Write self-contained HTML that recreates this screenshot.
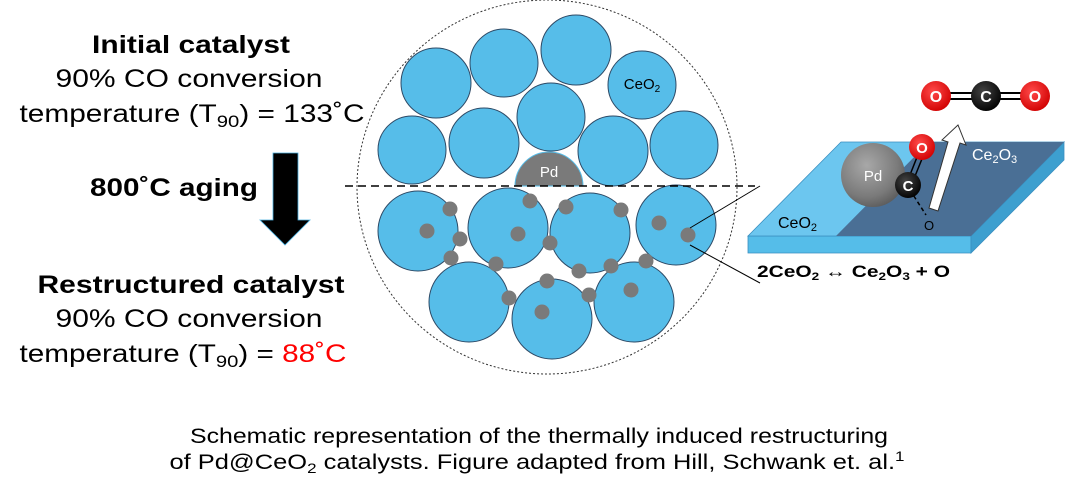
<!DOCTYPE html>
<html><head><meta charset="utf-8"><style>
html,body{margin:0;padding:0;background:#fff;}
svg{display:block;font-family:"Liberation Sans",Arial,sans-serif;}
</style></head><body>
<svg width="1072" height="492" viewBox="0 0 1072 492" xmlns="http://www.w3.org/2000/svg">
<defs>
<radialGradient id="pd" cx="0.4" cy="0.35" r="0.7"><stop offset="0" stop-color="#a8a8a8"/><stop offset="0.7" stop-color="#7a7a7a"/><stop offset="1" stop-color="#5a5a5a"/></radialGradient>
<radialGradient id="red" cx="0.4" cy="0.35" r="0.7"><stop offset="0" stop-color="#ff4a4a"/><stop offset="1" stop-color="#d00000"/></radialGradient>
<radialGradient id="blk" cx="0.4" cy="0.35" r="0.7"><stop offset="0" stop-color="#444"/><stop offset="1" stop-color="#000"/></radialGradient>
</defs>
<g text-anchor="middle" font-size="25">
<text x="191" y="53" font-weight="bold" textLength="198" lengthAdjust="spacingAndGlyphs">Initial catalyst</text>
<text x="189" y="87" textLength="267" lengthAdjust="spacingAndGlyphs">90% CO conversion</text>
<text x="192" y="122" textLength="345" lengthAdjust="spacingAndGlyphs">temperature (T<tspan font-size="17" dy="5">90</tspan><tspan dy="-5">) = 133˚C</tspan></text>
<text x="174" y="196" font-weight="bold" textLength="168" lengthAdjust="spacingAndGlyphs">800˚C aging</text>
<text x="191" y="293" font-weight="bold" textLength="307" lengthAdjust="spacingAndGlyphs">Restructured catalyst</text>
<text x="189" y="327" textLength="267" lengthAdjust="spacingAndGlyphs">90% CO conversion</text>
<text x="183" y="362" textLength="327" lengthAdjust="spacingAndGlyphs">temperature (T<tspan font-size="17" dy="5">90</tspan><tspan dy="-5">) = </tspan><tspan fill="#ff0000">88˚C</tspan></text>
</g>
<polygon points="273,153 298,153 298,220 310,220 285,245 260,220 273,220" fill="#000" stroke="#4ab0e0" stroke-width="0.8"/>
<ellipse cx="547" cy="187" rx="190" ry="187" fill="none" stroke="#333" stroke-width="1" stroke-dasharray="2,2"/>
<g fill="#56bde9" stroke="#2e4a66" stroke-width="1">
<circle cx="436" cy="83" r="35"/><circle cx="504" cy="63" r="34"/><circle cx="576" cy="50" r="35"/>
<circle cx="642" cy="85" r="34"/><circle cx="412" cy="150" r="34"/><circle cx="484" cy="143" r="35"/>
<circle cx="551" cy="117" r="34"/><circle cx="613" cy="151" r="35"/><circle cx="684" cy="145" r="34"/>
<circle cx="418" cy="231" r="40"/><circle cx="508" cy="228" r="40"/><circle cx="590" cy="233" r="40"/>
<circle cx="676" cy="225" r="40"/><circle cx="469" cy="302" r="40"/><circle cx="552" cy="319" r="40"/>
<circle cx="634" cy="302" r="40"/>
</g>
<path d="M515,186 A34,34 0 0 1 583,186 Z" fill="#7a7a7a" stroke="#56bde9" stroke-width="1"/>
<text x="549" y="177" font-size="15" fill="#fff" text-anchor="middle">Pd</text>
<text x="642" y="89" font-size="15" text-anchor="middle">CeO<tspan font-size="10" dy="3">2</tspan></text>
<g fill="#7a7a7a">
<circle cx="450" cy="209" r="7.5"/><circle cx="427" cy="231" r="7.5"/><circle cx="460" cy="239" r="7.5"/>
<circle cx="451" cy="258" r="7.5"/><circle cx="496" cy="264" r="7.5"/><circle cx="530" cy="201" r="7.5"/>
<circle cx="518" cy="234" r="7.5"/><circle cx="550" cy="243" r="7.5"/><circle cx="566" cy="207" r="7.5"/>
<circle cx="621" cy="210" r="7.5"/><circle cx="579" cy="271" r="7.5"/><circle cx="611" cy="266" r="7.5"/>
<circle cx="646" cy="261" r="7.5"/><circle cx="659" cy="223" r="7.5"/><circle cx="688" cy="235" r="7.5"/>
<circle cx="547" cy="281" r="7.5"/><circle cx="509" cy="298" r="7.5"/><circle cx="589" cy="295" r="7.5"/>
<circle cx="631" cy="290" r="7.5"/><circle cx="542" cy="312" r="7.5"/>
</g>
<line x1="345" y1="186" x2="755" y2="186" stroke="#000" stroke-width="1.5" stroke-dasharray="8,5"/>
<line x1="690" y1="228" x2="760" y2="186" stroke="#000" stroke-width="1"/>
<line x1="690" y1="245" x2="760" y2="283" stroke="#000" stroke-width="1"/>
<polygon points="748,236 971,236 971,253 748,253" fill="#55bde9" stroke="#3a8fc0" stroke-width="0.8"/>
<polygon points="971,236 1064,142 1064,160 971,253" fill="#3d9fcf" stroke="#3a8fc0" stroke-width="0.8"/>
<polygon points="748,236 841,142 1064,142 971,236" fill="#6cc6ef" stroke="#3a8fc0" stroke-width="0.8"/>
<polygon points="836,236 929,142 1064,142 971,236" fill="#4a6f95"/>
<text x="778" y="228" font-size="16">CeO<tspan font-size="11" dy="3">2</tspan></text>
<text x="972" y="160" font-size="16" fill="#fff">Ce<tspan font-size="11" dy="3">2</tspan><tspan dy="-3">O</tspan><tspan font-size="11" dy="3">3</tspan></text>
<circle cx="873" cy="175" r="32" fill="url(#pd)"/>
<text x="873" y="181" font-size="15" fill="#fff" text-anchor="middle">Pd</text>
<line x1="906" y1="185" x2="921" y2="147" stroke="#000" stroke-width="1.5"/>
<line x1="911" y1="186" x2="926" y2="149" stroke="#000" stroke-width="1.5"/>
<line x1="910" y1="190" x2="926" y2="215" stroke="#000" stroke-width="1.5" stroke-dasharray="4,3"/>
<polygon points="929,208 948,142 942,140 958,125 966,145 960,143 938,211" fill="#fff" stroke="#333" stroke-width="1"/>
<circle cx="922" cy="147" r="13" fill="url(#red)"/>
<text x="922" y="153" font-size="15" font-weight="bold" fill="#fff" text-anchor="middle">O</text>
<circle cx="908" cy="185" r="13" fill="url(#blk)"/>
<text x="908" y="191" font-size="15" font-weight="bold" fill="#fff" text-anchor="middle">C</text>
<text x="929" y="230" font-size="13" text-anchor="middle">O</text>
<line x1="936" y1="93" x2="1035" y2="93" stroke="#000" stroke-width="2"/>
<line x1="936" y1="99" x2="1035" y2="99" stroke="#000" stroke-width="2"/>
<circle cx="936" cy="96" r="15" fill="url(#red)"/>
<circle cx="986" cy="96" r="15" fill="url(#blk)"/>
<circle cx="1035" cy="96" r="15" fill="url(#red)"/>
<g font-size="16" font-weight="bold" fill="#fff" text-anchor="middle">
<text x="936" y="102">O</text><text x="986" y="102">C</text><text x="1035" y="102">O</text></g>
<text x="757" y="277" font-size="17" font-weight="bold" textLength="193" lengthAdjust="spacingAndGlyphs">2CeO<tspan font-size="11" dy="3">2</tspan><tspan dy="-3"> ↔ Ce</tspan><tspan font-size="11" dy="3">2</tspan><tspan dy="-3">O</tspan><tspan font-size="11" dy="3">3</tspan><tspan dy="-3"> + O</tspan></text>
<g font-size="21" text-anchor="middle">
<text x="539" y="443" textLength="698" lengthAdjust="spacingAndGlyphs">Schematic representation of the thermally induced restructuring</text>
<text x="537" y="469" textLength="735" lengthAdjust="spacingAndGlyphs">of Pd@CeO<tspan font-size="14" dy="4">2</tspan><tspan dy="-4"> catalysts. Figure adapted from Hill, Schwank et. al.</tspan><tspan font-size="14" dy="-8">1</tspan></text>
</g>
</svg>
</body></html>
